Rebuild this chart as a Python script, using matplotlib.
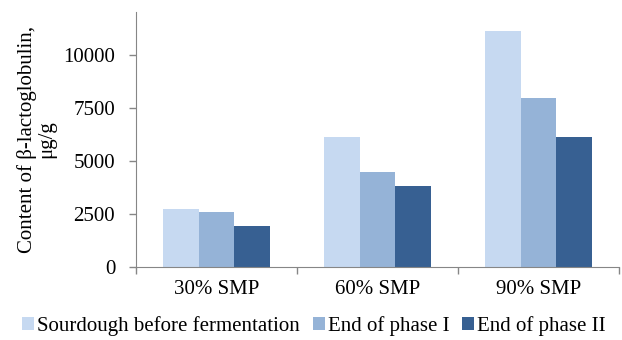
import numpy as np
import matplotlib.pyplot as plt

plt.rcParams['font.family'] = ['Liberation Serif', 'DejaVu Serif']

categories = ["30% SMP", "60% SMP", "90% SMP"]
series = ["Sourdough before fermentation", "End of phase I", "End of phase II"]
sourdough = [2730, 6140, 11100]
end1 = [2600, 4490, 7930]
end2 = [1940, 3820, 6140]
colors = ["#C6D9F1", "#95B3D7", "#376092"]

fig = plt.figure(figsize=(6.22, 3.4), dpi=100)
ax = fig.add_axes([0.2186, 0.2147, 0.7764, 0.75])

x = np.arange(len(categories))
w = 1 / 4.5
for i, (vals, lab) in enumerate(zip([sourdough, end1, end2], series)):
    ax.bar(x + (i - 1) * w, vals, w, color=colors[i], label=lab)

ax.set_xlim(-0.5, 2.5)
ax.set_ylim(0, 12000)
ax.set_yticks([0, 2500, 5000, 7500, 10000])
ax.set_xticks(x)
ax.set_xticklabels(categories, fontsize=15)
ax.set_xticks([-0.5, 0.5, 1.5, 2.5], minor=True)
ax.tick_params(axis='x', which='major', length=0, pad=9)
ax.tick_params(axis='x', which='minor', length=5, color='#868686', width=1)
ax.tick_params(axis='y', labelsize=15, length=5, color='#868686', width=1, pad=10)
for s in ['top', 'right']:
    ax.spines[s].set_visible(False)
for s in ['left', 'bottom']:
    ax.spines[s].set_color('#868686')
ax.set_ylabel("Content of β-lactoglobulin,\nμg/g", fontsize=15, labelpad=5,
              linespacing=1.0)

handles, labels = ax.get_legend_handles_labels()
fig.legend(handles, labels, loc='center', bbox_to_anchor=(314 / 622, 1 - 326 / 340),
           ncol=3, frameon=False, fontsize=15, handlelength=0.58, handleheight=0.58,
           handletextpad=0.15, columnspacing=0.6, borderaxespad=0, borderpad=0)

fig.savefig("out.png", dpi=100)
